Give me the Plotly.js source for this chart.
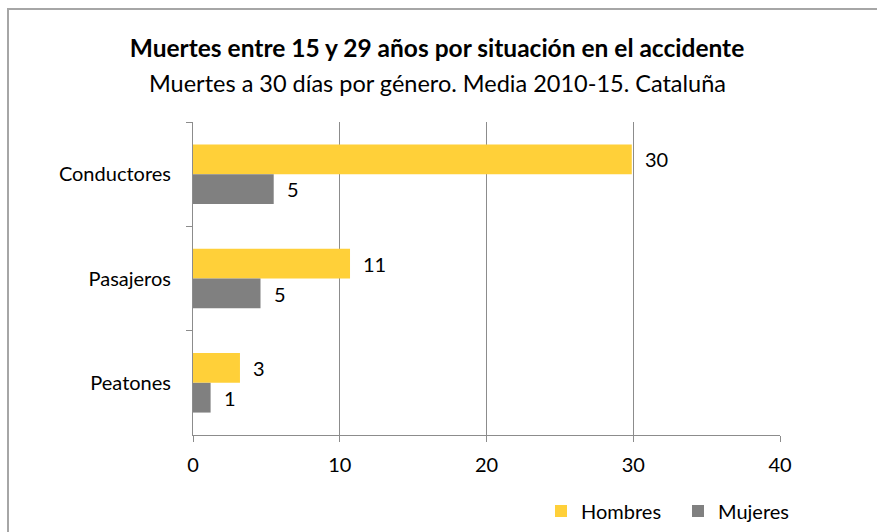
<!DOCTYPE html>
<html>
<head>
<meta charset="utf-8">
<script src="https://cdn.plot.ly/plotly-3.0.1.min.js"></script>
<style>
  html, body { margin: 0; padding: 0; overflow: hidden; background: #fff; }
  #wrap { position: relative; width: 877px; height: 532px; overflow: hidden; }
  #chart { width: 877px; height: 532px; }
  #frame { position: absolute; left: 7px; top: 8px; width: 1400px; height: 1000px;
           border-top: 2px solid #a6a6a6; border-left: 2px solid #a6a6a6;
           pointer-events: none; }
</style>
</head>
<body>
<div id="wrap">
  <div id="chart"></div>
  <div id="frame"></div>
</div>
<script>
const categories = ["Conductores", "Pasajeros", "Peatones"];
const hombres = [29.9, 10.7, 3.2];
const mujeres = [5.5, 4.6, 1.2];
const hombresLabels = ["30", "11", "3"];
const mujeresLabels = ["5", "5", "1"];
const xTicks = [0, 10, 20, 30, 40];

const FONT = "Lato, 'Open Sans', sans-serif";
const YELLOW = "#FFD039";
const GRAY = "#808080";
const LINE = "#8c8c8c";

const traces = [
  { type: "bar", orientation: "h", name: "Hombres", y: categories, x: hombres,
    marker: { color: YELLOW }, hoverinfo: "x+y" },
  { type: "bar", orientation: "h", name: "Mujeres", y: categories, x: mujeres,
    marker: { color: GRAY }, hoverinfo: "x+y" }
];

const annotations = [];
categories.forEach((c, i) => {
  annotations.push({ x: hombres[i], y: c, xref: "x", yref: "y", text: hombresLabels[i],
    showarrow: false, xanchor: "left", yanchor: "middle", xshift: 11, yshift: 15,
    font: { family: FONT, size: 20, color: "#000" } });
  annotations.push({ x: mujeres[i], y: c, xref: "x", yref: "y", text: mujeresLabels[i],
    showarrow: false, xanchor: "left", yanchor: "middle", xshift: 11, yshift: -15,
    font: { family: FONT, size: 20, color: "#000" } });
});
annotations.push({
  text: "Muertes a 30 días por género. Media 2010-15. Cataluña",
  xref: "paper", yref: "paper", x: (437 - 193) / 587, y: (435 - 83) / 313,
  xanchor: "center", yanchor: "middle", showarrow: false,
  font: { family: FONT, size: 23.5, color: "#000" }
});

const layout = {
  width: 877, height: 532,
  margin: { l: 193, r: 97, t: 122, b: 97, pad: 0 },
  paper_bgcolor: "#fff", plot_bgcolor: "#fff",
  font: { family: FONT, size: 20, color: "#000" },
  title: {
    text: "<b>Muertes entre 15 y 29 años por situación en el accidente</b>",
    x: 437 / 877, xanchor: "center", xref: "container",
    y: 1 - 48 / 532, yanchor: "middle", yref: "container",
    font: { family: FONT, size: 24.5, color: "#000" }
  },
  barmode: "group", bargap: 0.43, bargroupgap: 0,
  xaxis: {
    range: [0, 40], tickvals: xTicks, ticktext: xTicks.map(String),
    showgrid: true, gridcolor: LINE, gridwidth: 1,
    showline: true, linecolor: LINE, linewidth: 1,
    ticks: "outside", ticklen: 6, tickcolor: LINE,
    zeroline: false, fixedrange: true, ticklabelstandoff: 6,
    tickfont: { family: FONT, size: 20, color: "#000" }
  },
  yaxis: {
    type: "category", autorange: "reversed",
    showline: true, linecolor: LINE, linewidth: 1,
    ticks: "outside", ticklen: 6, tickcolor: LINE, tickson: "boundaries",
    showgrid: false, zeroline: false, fixedrange: true,
    ticklabelstandoff: 17,
    tickfont: { family: FONT, size: 20, color: "#000" }
  },
  showlegend: true,
  legend: {
    orientation: "h", x: 541 / 877, xanchor: "left", xref: "container",
    y: 1 - 511 / 532, yanchor: "middle", yref: "container",
    entrywidth: 92, entrywidthmode: "pixels",
    font: { family: FONT, size: 20, color: "#000" },
    bgcolor: "rgba(0,0,0,0)", itemclick: false, itemdoubleclick: false
  },
  annotations: annotations
};

Plotly.newPlot("chart", traces, layout, { displayModeBar: false, staticPlot: true });
</script>
</body>
</html>
